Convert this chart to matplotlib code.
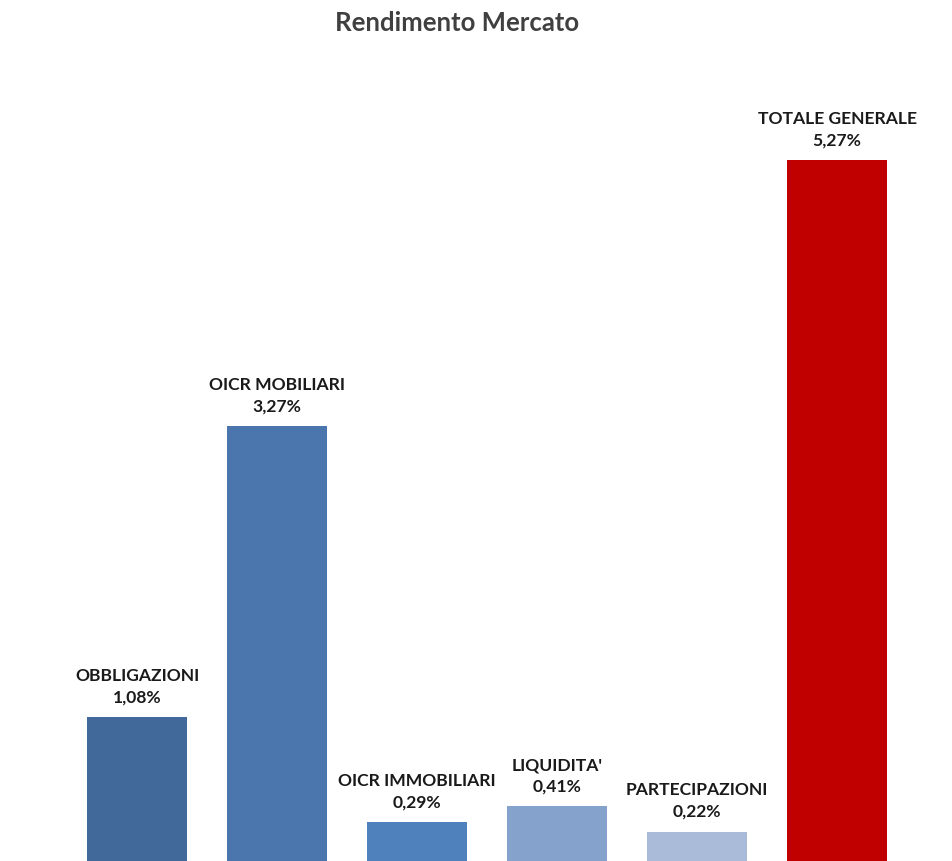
import matplotlib
matplotlib.use("Agg")
import matplotlib.pyplot as plt

categories = ["OBBLIGAZIONI", "OICR MOBILIARI", "OICR IMMOBILIARI", "LIQUIDITA'", "PARTECIPAZIONI", "TOTALE GENERALE"]
values = [1.08, 3.27, 0.29, 0.41, 0.22, 5.27]
colors = ["#416A9A", "#4A76AD", "#4F81BD", "#85A2CC", "#AABBD9", "#C00000"]
title = "Rendimento Mercato"

plt.rcParams['font.family'] = ['Lato', 'DejaVu Sans']

fig = plt.figure(figsize=(9.52, 8.61), dpi=100)
ax = fig.add_axes([0, 0, 1, 1])
x = list(range(len(categories)))
ax.bar(x, values, width=0.714, color=colors)
ax.set_xlim(-0.979, 5.821)
ax.set_ylim(0, 861 / 133.0)
ax.axis('off')

for xi, v, c in zip(x, values, categories):
    ax.annotate(f"{c}\n{v:.2f}%".replace('.', ','), (xi, v), xytext=(0, 8.5),
                textcoords='offset points', ha='center', va='bottom',
                fontsize=12.6, fontweight='bold', color='#1a1a1a', linespacing=1.42)

fig.text(0.48, 1 - 23 / 861, title, ha='center', va='center', fontsize=18.5,
         fontweight='bold', color='#404040')

fig.savefig("out.png", dpi=100)
